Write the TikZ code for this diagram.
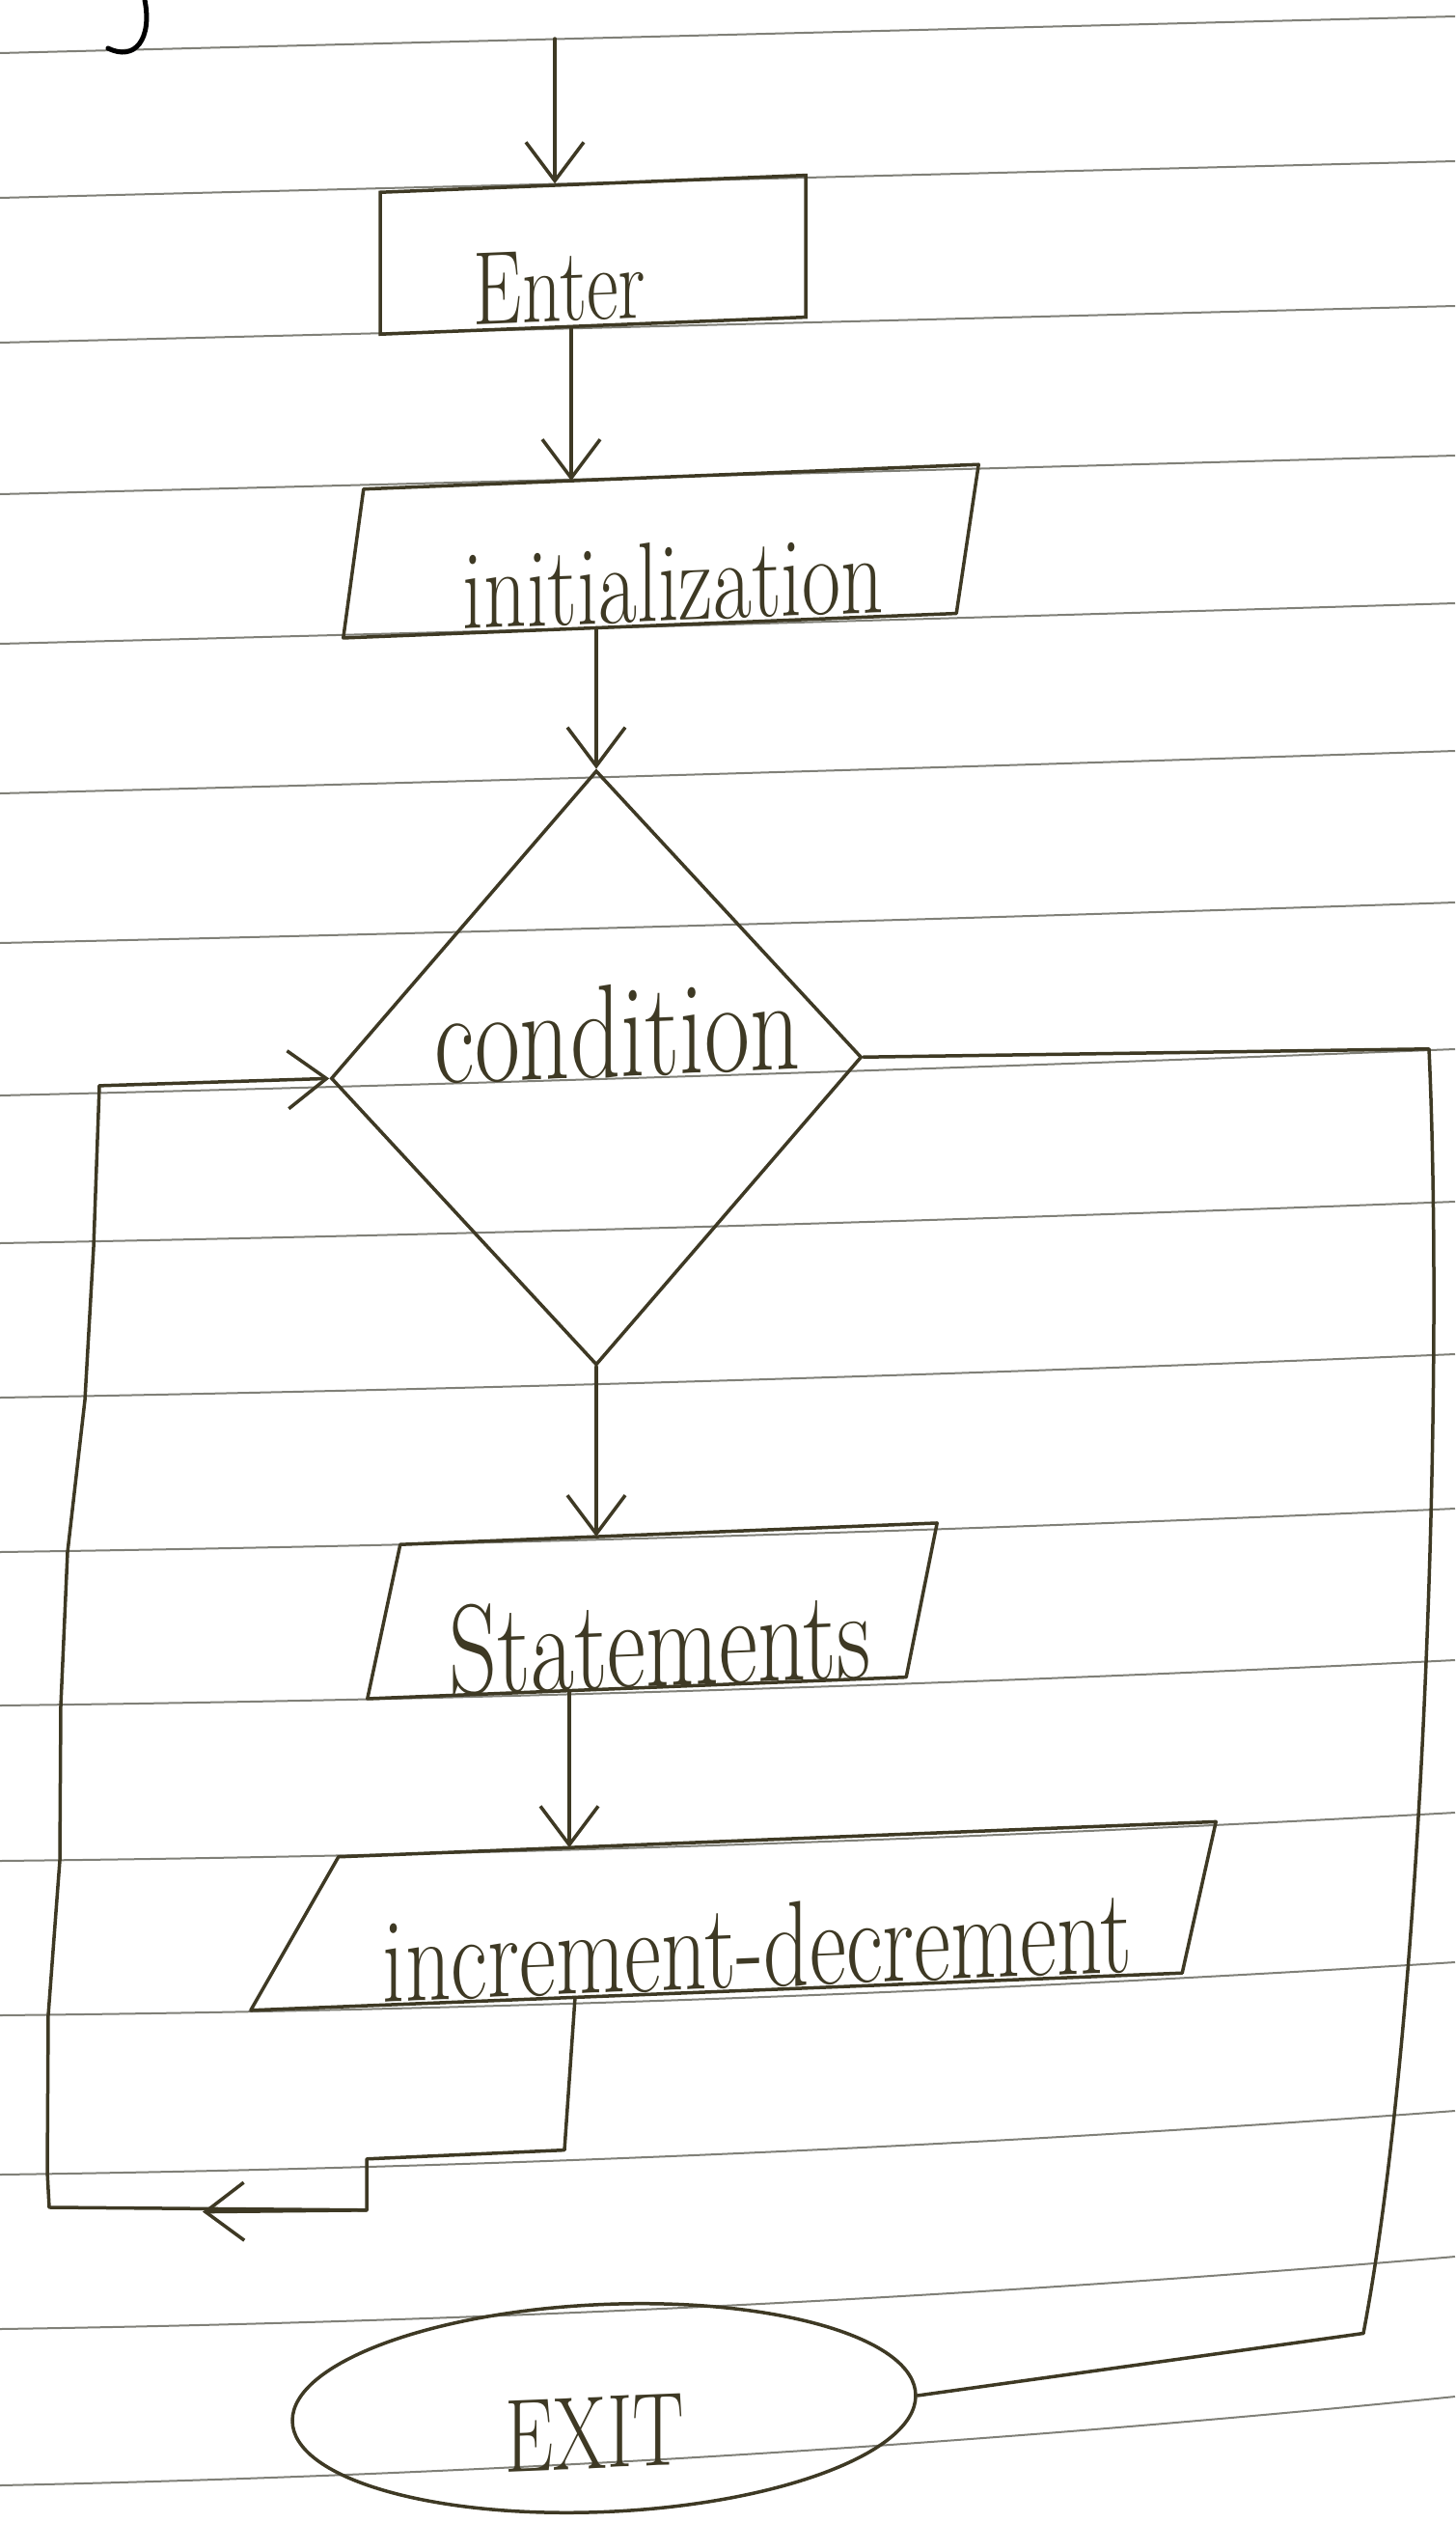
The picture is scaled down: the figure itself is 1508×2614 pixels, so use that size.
\documentclass[tikz,border=0pt]{standalone}
\usepackage{graphicx}
\usetikzlibrary{arrows.meta,shapes.geometric}
\definecolor{pencil}{RGB}{62,57,36}
\definecolor{ruling}{RGB}{128,128,120}
\newcommand{\hwtext}[2]{{\fontsize{#1}{#1}\selectfont\scalebox{1}[1.35]{#2}}}
\begin{document}
\begin{tikzpicture}[x=1pt,y=-1pt,
  pen/.style={draw=pencil, line width=3.5pt, line join=round, line cap=round},
  arr/.style={pen, -{Straight Barb[length=40pt,width=60pt]}},
  box/.style={draw=pencil, line width=3.5pt, inner sep=0pt},
  ghost/.style={inner sep=0pt},
  lbl/.style={text=pencil, inner sep=0pt, anchor=base}]
\fill[white] (0,0) rectangle (1508,2614);
\useasboundingbox (0,0) rectangle (1508,2614);
% ruled paper lines
\foreach \l/\r/\s in {55/17/0, 205/167/0.1, 355/317/0.3, 512/472/0.7, 667/625/1.3,
  822/778/2, 977/935/2.8, 1135/1087/3.8, 1288/1245/5, 1448/1403/6.3, 1608/1563/7.8,
  1767/1720/9.5, 1928/1878/11.3, 2088/2033/13.2, 2253/2187/15.3, 2413/2338/17.6, 2575/2483/20}{
  \draw[ruling, line width=2pt] (0,\l) .. controls (503,{\l+(\r-\l)/3+\s}) and (1005,{\l+2*(\r-\l)/3+\s}) .. (1508,\r);
}
% fragment of writing at the top left
\draw[black, line width=5pt, line cap=round] (150,0) .. controls (158,40) and (140,64) .. (112,50);
\begin{scope}[yslant=0.04, every node/.append style={transform shape}]
  % shapes
  \node[box, minimum width=441pt, minimum height=147pt] (enter) at (614.5,288.5) {};
  \node[ghost, minimum width=658pt, minimum height=153pt] (init) at (685,598.5) {};
  \node[box, diamond, minimum width=550pt, minimum height=616pt] (cond) at (618,1131) {};
  \node[ghost, minimum width=590pt, minimum height=158pt] (stmt) at (676,1696) {};
  \node[ghost, minimum width=1000pt, minimum height=155pt] (inc) at (760,2015.5) {};
  \node[box, ellipse, minimum width=646pt, minimum height=215pt] (exit) at (626,2520) {};
  \draw[pen] ([xshift=21pt]init.north west) -- (init.north east) -- ([xshift=-23pt]init.south east) -- (init.south west) -- cycle;
  \draw[pen] ([xshift=34pt]stmt.north west) -- (stmt.north east) -- ([xshift=-32pt]stmt.south east) -- (stmt.south west) -- cycle;
  \draw[pen] ([xshift=91pt]inc.north west) -- (inc.north east) -- ([xshift=-35pt]inc.south east) -- (inc.south west) -- cycle;
  % labels
  \node[lbl] (enterT) at (580,356) {\hwtext{80}{Enter}};
  \node[lbl] (initT) at (698,671) {\hwtext{87}{initialization}};
  \node[lbl] (condT) at (640,1141) {\hwtext{102}{condition}};
  \node[lbl] (stmtT) at (684,1774) {\hwtext{98}{Statements}};
  \node[lbl] (incT) at (785,2090) {\hwtext{93}{increment-decrement}};
  \node[lbl] (exitT) at (616,2582) {\hwtext{80}{EXIT}};
  % main flow
  \coordinate (start) at (575,63);
  \draw[arr] (start) -- ([xshift=-39.5pt]enter.north);
  \draw[arr] ([xshift=-22.5pt]enter.south) -- ([xshift=-93pt]init.north);
  \draw[arr] ([xshift=-67pt]init.south) -- (cond.north);
  \draw[arr] (cond.south) -- ([xshift=-58pt]stmt.north);
  \draw[arr] ([xshift=-86pt]stmt.south) -- ([xshift=-170pt]inc.north);
  % loop back to the condition
  \coordinate (l1) at (585,2251);
  \coordinate (l2) at (380,2252);
  \coordinate (l3) at (380,2305);
  \coordinate (lm) at (210,2300);
  \coordinate (l4) at (51,2289);
  \coordinate (w1) at (49,2252);
  \coordinate (w2) at (50,2090);
  \coordinate (w3) at (62,1930);
  \coordinate (w4) at (63,1770);
  \coordinate (w5) at (70,1611);
  \coordinate (w6) at (88,1454);
  \coordinate (w7) at (97,1296);
  \coordinate (lt) at (103,1129);
  \draw[pen] ([xshift=-164pt]inc.south) -- (l1) -- (l2) -- (l3) -- (l4) -- (w1) -- (w2) -- (w3) -- (w4) -- (w5) -- (w6) -- (w7) -- (lt);
  \draw[arr] (l3) -- (lm);
  \draw[arr] (lt) -- (cond.west);
  % exit path
  \coordinate (r1) at (1481,1146);
  \coordinate (rc1) at (1497,1500);
  \coordinate (rc2) at (1475,2150);
  \coordinate (r2) at (1413,2474);
  \draw[pen] (cond.east) -- (r1) .. controls (rc1) and (rc2) .. (r2) -- (exit.east);
\end{scope}
\end{tikzpicture}
\end{document}
